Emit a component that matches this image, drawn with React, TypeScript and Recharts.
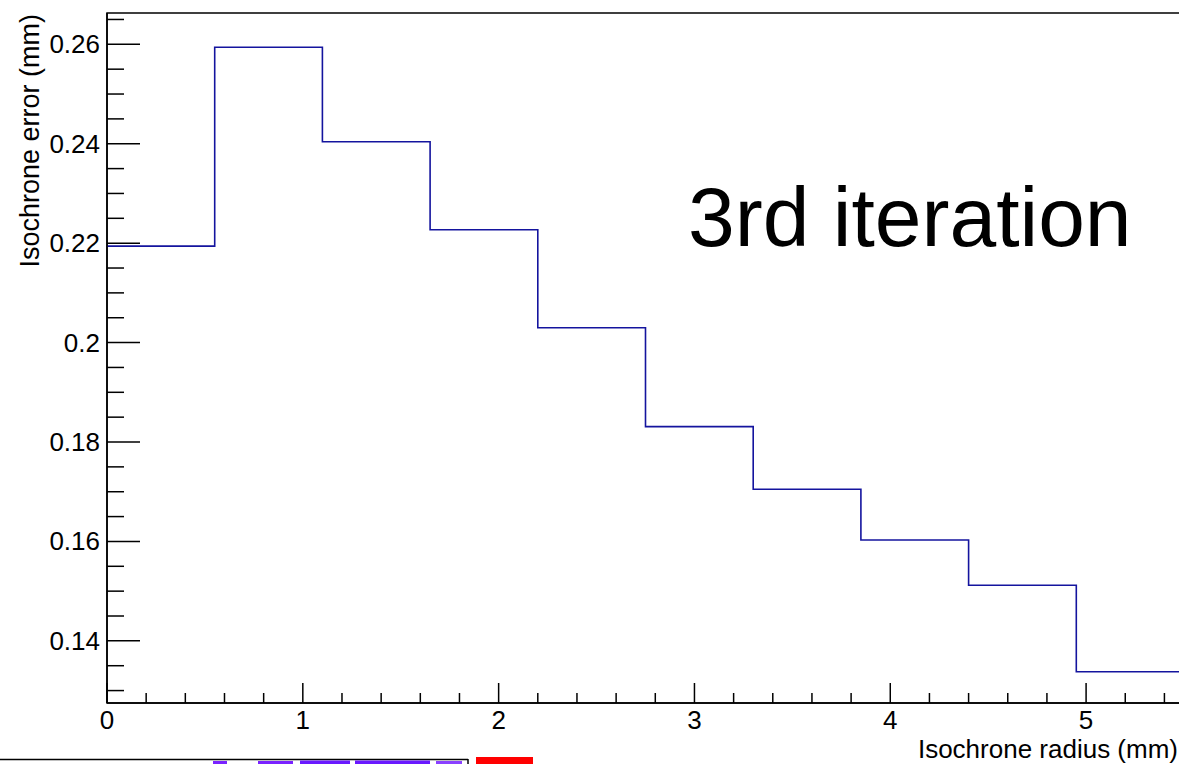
import { ComposedChart, Line, XAxis, YAxis, ReferenceArea } from 'recharts';

// histogram bin lower edges (mm) and contents (mm)
const binEdges = [0, 0.55, 1.1, 1.65, 2.2, 2.75, 3.3, 3.85, 4.4, 4.95];
const binUpper = 5.5;
const isochroneError = [0.2194, 0.2594, 0.2404, 0.2227, 0.203, 0.1831, 0.1705, 0.1603, 0.1512, 0.1338];

const xTicks = [
  0, 0.2, 0.4, 0.6, 0.8, 1, 1.2, 1.4, 1.6, 1.8, 2, 2.2, 2.4, 2.6, 2.8,
  3, 3.2, 3.4, 3.6, 3.8, 4, 4.2, 4.4, 4.6, 4.8, 5, 5.2, 5.4,
];
const yTicks = [
  0.13, 0.135, 0.14, 0.145, 0.15, 0.155, 0.16, 0.165, 0.17, 0.175, 0.18, 0.185, 0.19, 0.195,
  0.2, 0.205, 0.21, 0.215, 0.22, 0.225, 0.23, 0.235, 0.24, 0.245, 0.25, 0.255, 0.26, 0.265,
];
const yDomain = [0.1275, 0.2663];

const FONT = '"Liberation Sans", Arial, Helvetica, sans-serif';

const data = [
  ...binEdges.map((x, i) => ({ x, y: isochroneError[i] })),
  { x: binUpper, y: isochroneError[isochroneError.length - 1] },
];

const onGrid = (v: number, step: number) => Math.abs(v / step - Math.round(v / step)) < 1e-6;

const XTick = (props: any) => {
  const { x, y, payload } = props;
  const major = onGrid(payload.value, 1);
  return (
    <g>
      <line x1={x} x2={x} y1={y} y2={y - (major ? 20 : 10)} stroke="#000" strokeWidth={1.5} />
      {major && (
        <text x={x} y={y + 26} textAnchor="middle" fontSize={26} fontFamily={FONT} fill="#000">
          {String(Math.round(payload.value))}
        </text>
      )}
    </g>
  );
};

const YTick = (props: any) => {
  const { x, y, payload } = props;
  const major = onGrid(payload.value, 0.02);
  return (
    <g>
      <line x1={x} x2={x + (major ? 33 : 17)} y1={y} y2={y} stroke="#000" strokeWidth={1.5} />
      {major && (
        <text x={x - 7} y={y + 9} textAnchor="end" fontSize={26} fontFamily={FONT} fill="#000">
          {parseFloat(payload.value.toFixed(3)).toString()}
        </text>
      )}
    </g>
  );
};

export default function App() {
  return (
    <div style={{ position: 'absolute', left: 0, top: 0, width: 1179, height: 764, overflow: 'hidden', background: '#fff' }}>
      <ComposedChart width={1184} height={764} data={data} margin={{ top: 13, right: 0, left: 0, bottom: 0 }}>
        <XAxis
          dataKey="x"
          type="number"
          domain={[0, binUpper]}
          ticks={xTicks}
          interval={0}
          allowDataOverflow
          height={61}
          tickSize={0}
          tickMargin={0}
          tickLine={false}
          tick={<XTick />}
          axisLine={{ stroke: '#000', strokeWidth: 1.5 }}
        />
        <YAxis
          type="number"
          domain={yDomain}
          ticks={yTicks}
          interval={0}
          allowDataOverflow
          width={107}
          tickSize={0}
          tickMargin={0}
          tickLine={false}
          tick={<YTick />}
          axisLine={{ stroke: '#000', strokeWidth: 1.5 }}
        />
        <ReferenceArea
          x1={0}
          x2={binUpper}
          y1={yDomain[0]}
          y2={yDomain[1]}
          fill="none"
          stroke="#000"
          strokeWidth={1.5}
          ifOverflow="visible"
        />
        <Line
          type="stepAfter"
          dataKey="y"
          stroke="#14149e"
          strokeWidth={1.6}
          dot={false}
          activeDot={false}
          isAnimationActive={false}
        />
      </ComposedChart>
      <svg width={1179} height={764} style={{ position: 'absolute', left: 0, top: 0, pointerEvents: 'none' }}>
        <text x={688} y={246} fontSize={84} fontFamily={FONT} fill="#000">3rd iteration</text>
        <text x={1178} y={758} textAnchor="end" fontSize={26} fontFamily={FONT} fill="#000">Isochrone radius (mm)</text>
        <text x={39} y={14} textAnchor="end" fontSize={27} fontFamily={FONT} fill="#000" transform="rotate(-90, 39, 14)">
          Isochrone error (mm)
        </text>
        {/* clipped strip of a neighbouring figure at the bottom edge */}
        <line x1={0} x2={468} y1={759.5} y2={759.5} stroke="#000" strokeWidth={1.5} />
        <line x1={468} x2={468} y1={759} y2={764} stroke="#000" strokeWidth={1.5} />
        <rect x={213} y={761} width={14} height={3} fill="#7a22ff" />
        <rect x={258} y={761} width={35} height={3} fill="#7a22ff" />
        <rect x={300} y={760.5} width={50} height={3.5} fill="#6a18ff" />
        <rect x={355} y={760.5} width={75} height={3.5} fill="#6a18ff" />
        <rect x={436} y={761} width={26} height={3} fill="#8a40ff" />
        <rect x={476} y={757} width={57} height={7} fill="#ff0000" />
      </svg>
    </div>
  );
}
